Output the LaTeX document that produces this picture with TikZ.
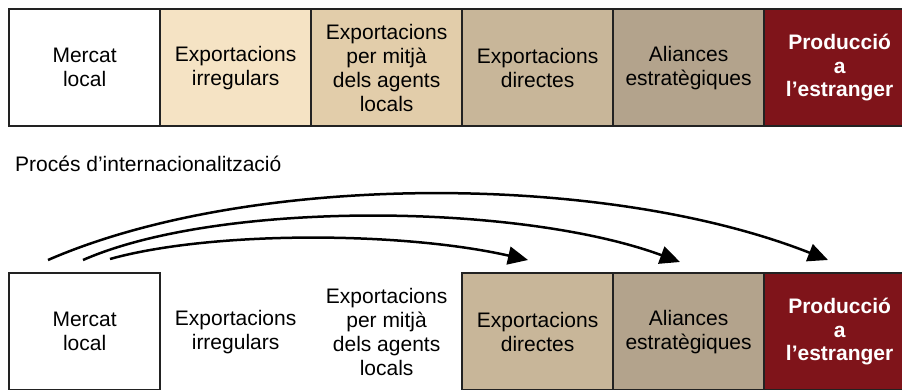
\documentclass[tikz,border=0pt]{standalone}
\usepackage{fontspec}
\setmainfont{Liberation Sans}
\usetikzlibrary{arrows.meta,calc}
\definecolor{cwhite}{HTML}{FFFFFF}
\definecolor{cbeigeA}{HTML}{F5E3C4}
\definecolor{cbeigeB}{HTML}{E2CDAA}
\definecolor{cbeigeC}{HTML}{C8B699}
\definecolor{cbeigeD}{HTML}{B3A38C}
\definecolor{cred}{HTML}{7F141A}
\definecolor{cborder}{HTML}{222222}
\tikzset{
  stagebox/.style={draw=cborder, line width=2.2pt, minimum width=151pt, minimum height=117pt,
    inner sep=0pt, align=center, anchor=north west, text=black,
    font=\fontsize{21}{24}\selectfont},
  plainbox/.style={stagebox, draw=none},
  redbox/.style={stagebox, fill=cred, text=white, font=\fontsize{21}{23.5}\selectfont\bfseries},
  curvearrow/.style={line width=2.5pt, -{Triangle[length=20pt,width=18pt]}},
}
\begin{document}
\begin{tikzpicture}[x=1pt,y=-1pt]
\useasboundingbox (0,0) rectangle (902,390);
% top row
\node[stagebox, fill=cbeigeD] (t5) at (612,8) {Aliances\\estratègiques};
\node[stagebox, fill=cbeigeC] (t4) at (461,8) {Exportacions\\directes};
\node[stagebox, fill=cbeigeB] (t3) at (310,8) {Exportacions\\per mitjà\\dels agents\\locals};
\node[stagebox, fill=cbeigeA] (t2) at (159,8) {Exportacions\\irregulars};
\node[stagebox, fill=cwhite] (t1) at (8,8) {Mercat\\local};
\node[redbox] (t6) at (763,8) {Producció\\a\\l’estranger};
% title
\node[anchor=base west, inner sep=0pt, font=\fontsize{21}{24}\selectfont] (title) at (15,172) {Procés d’internacionalització};
% bottom row
\node[stagebox, fill=cwhite] (b1) at (8,272) {Mercat\\local};
\node[plainbox] (b2) at (159,272) {Exportacions\\irregulars};
\node[plainbox] (b3) at (310,272) {Exportacions\\per mitjà\\dels agents\\locals};
\node[stagebox, fill=cbeigeD] (b5) at (612,272) {Aliances\\estratègiques};
\node[stagebox, fill=cbeigeC] (b4) at (461,272) {Exportacions\\directes};
\node[redbox] (b6) at (763,272) {Producció\\a\\l’estranger};
% arrow endpoints
\coordinate (s1) at ($(b1.north west)+(40,-12)$);
\coordinate (s2) at ($(b1.north west)+(75,-12)$);
\coordinate (s3) at ($(b1.north west)+(102,-13)$);
\coordinate (e3) at ($(b4.north west)+(67,-12)$);
\coordinate (e2) at ($(b5.north west)+(68,-10)$);
\coordinate (e1) at ($(b6.north west)+(65,-12)$);
\draw[curvearrow] (s1) .. controls (250,172) and (605,172) .. (e1);
\draw[curvearrow] (s2) .. controls (220,200) and (520,203) .. (e2);
\draw[curvearrow] (s3) .. controls (210,231) and (400,231) .. (e3);
\end{tikzpicture}
\end{document}
